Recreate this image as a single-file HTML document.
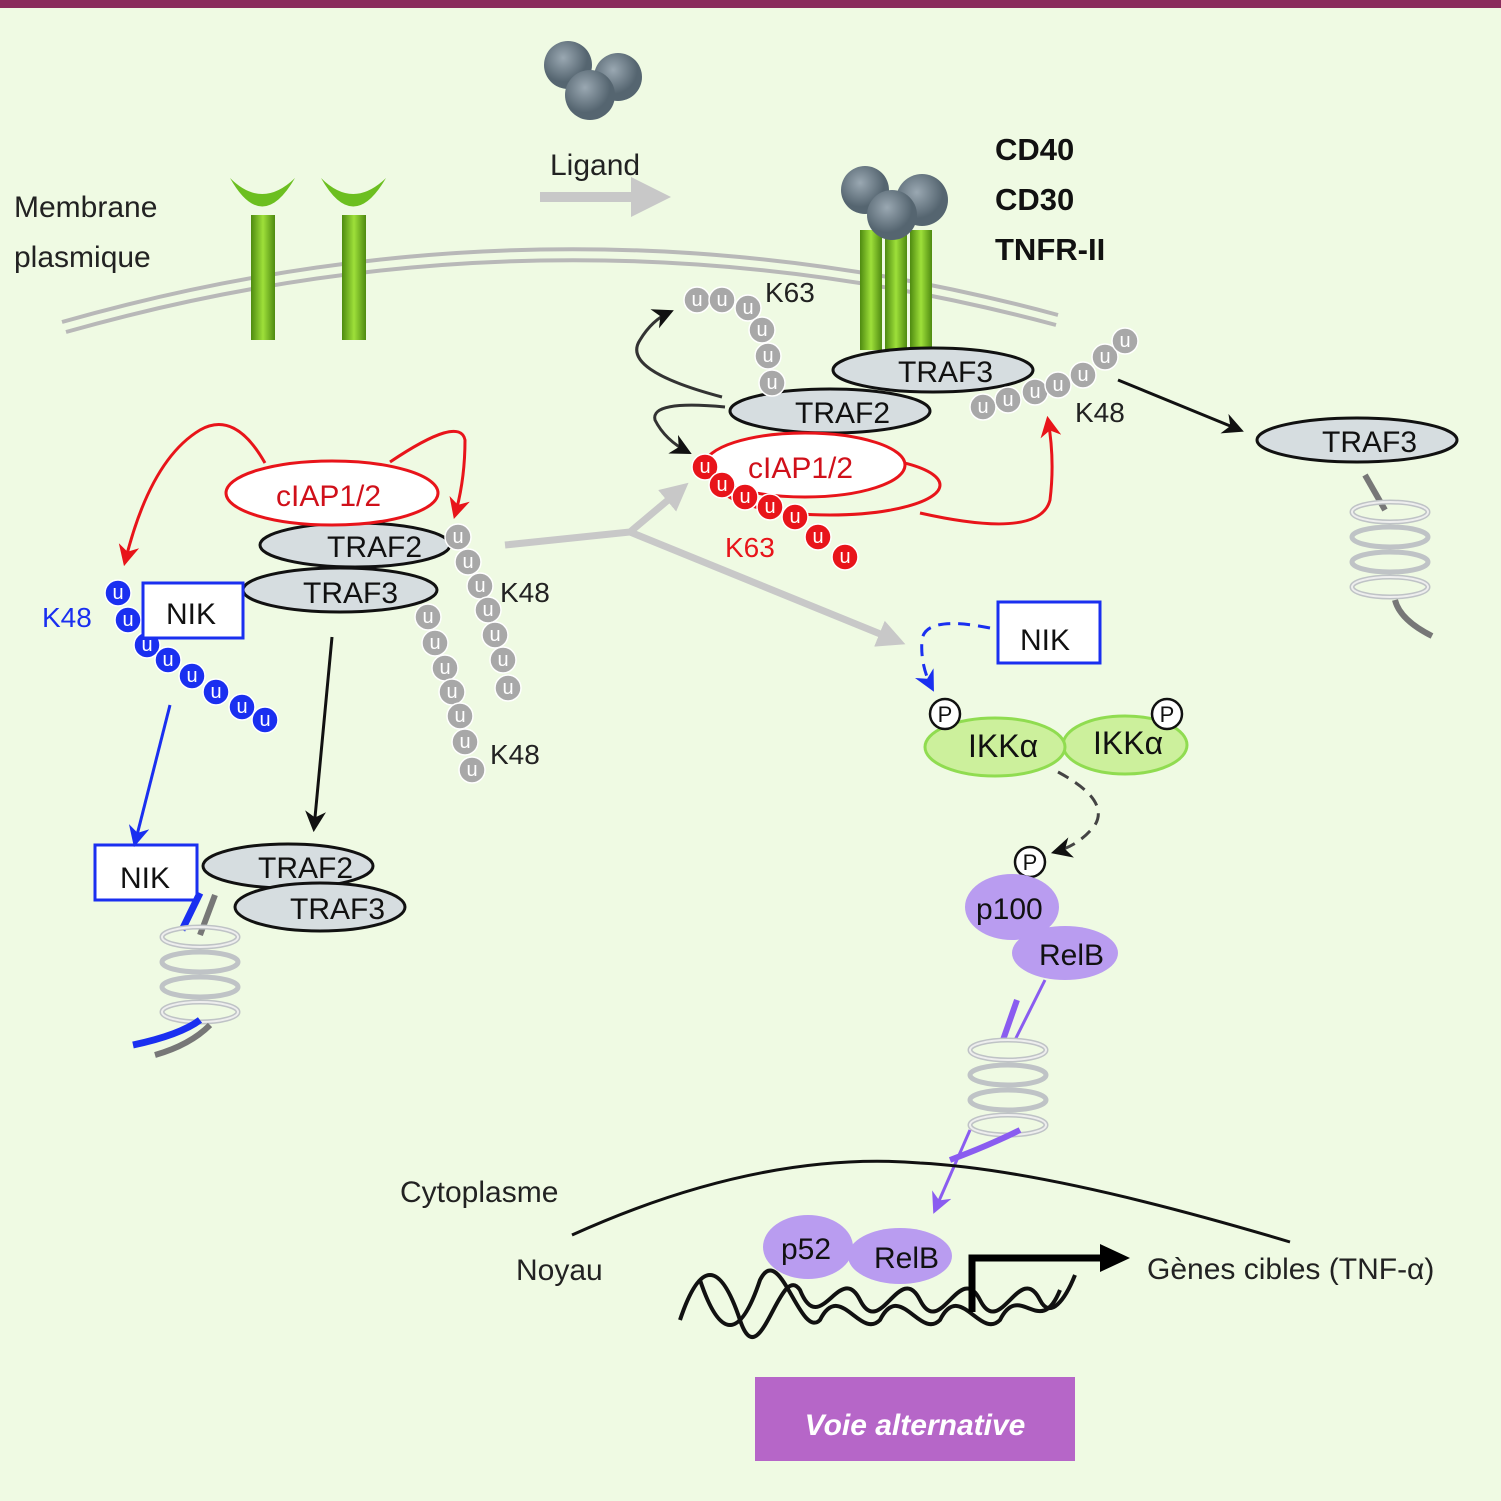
<!DOCTYPE html>
<html><head><meta charset="utf-8"><style>
html,body{margin:0;padding:0;background:#effae3}
svg{display:block}
text{font-family:"Liberation Sans",sans-serif}
</style></head><body>
<svg width="1501" height="1501" viewBox="0 0 1501 1501" xmlns="http://www.w3.org/2000/svg">
<defs>
<marker id="ab" viewBox="0 0 10 10" refX="8" refY="5" markerWidth="7" markerHeight="7" orient="auto"><path d="M0,0 L10,5 L0,10 L3,5z" fill="#111"/></marker>
<marker id="ar" viewBox="0 0 10 10" refX="8" refY="5" markerWidth="7" markerHeight="7" orient="auto"><path d="M0,0 L10,5 L0,10 L3,5z" fill="#e8141a"/></marker>
<marker id="abl" viewBox="0 0 10 10" refX="8" refY="5" markerWidth="7" markerHeight="7" orient="auto"><path d="M0,0 L10,5 L0,10 L3,5z" fill="#1a2ff0"/></marker>
<marker id="ag" viewBox="0 0 10 10" refX="6" refY="5" markerWidth="4" markerHeight="4" orient="auto"><path d="M0,0 L10,5 L0,10 z" fill="#c8c8c8"/></marker>
<marker id="ap" viewBox="0 0 10 10" refX="8" refY="5" markerWidth="7" markerHeight="7" orient="auto"><path d="M0,0 L10,5 L0,10 L3,5z" fill="#8a5cf0"/></marker>
<linearGradient id="gr" x1="0" x2="1"><stop offset="0" stop-color="#4e8a10"/><stop offset=".5" stop-color="#9ee03a"/><stop offset="1" stop-color="#4e8a10"/></linearGradient>
<radialGradient id="ball" cx=".4" cy=".35"><stop offset="0" stop-color="#9aa8b2"/><stop offset="1" stop-color="#556570"/></radialGradient>
<g id="prot"><g fill="none" stroke="#bfc3c6" stroke-width="5">
<ellipse cx="0" cy="-38" rx="38" ry="10"/><ellipse cx="0" cy="-13" rx="38" ry="10"/><ellipse cx="0" cy="12" rx="38" ry="10"/><ellipse cx="0" cy="37" rx="38" ry="10"/></g>
<g fill="none" stroke="#eee" stroke-width="2"><ellipse cx="0" cy="-38" rx="38" ry="10"/><ellipse cx="0" cy="37" rx="38" ry="10"/></g></g>
</defs>
<rect x="0" y="0" width="1501" height="1501" fill="#effae3"/>
<rect x="0" y="0" width="1501" height="8" fill="#8a2c5c"/>

<!-- ligand -->
<circle cx="568" cy="65" r="24" fill="url(#ball)"/><circle cx="618" cy="77" r="24" fill="url(#ball)"/><circle cx="590" cy="95" r="25" fill="url(#ball)"/>
<text x="550" y="175" font-size="30" fill="#222">Ligand</text>
<path d="M540,197 H655" stroke="#c8c8c8" stroke-width="10" marker-end="url(#ag)"/>

<!-- membrane -->
<path d="M62,322 Q560,180 1058,315" fill="none" stroke="#b8b8b8" stroke-width="4"/>
<path d="M66,332 Q560,192 1056,325" fill="none" stroke="#b8b8b8" stroke-width="4"/>
<text x="14" y="217" font-size="30" fill="#222">Membrane</text>
<text x="14" y="267" font-size="30" fill="#222">plasmique</text>

<!-- receptors -->
<g fill="url(#gr)"><rect x="251" y="215" width="24" height="125"/><rect x="342" y="215" width="24" height="125"/>
<path d="M230,178 Q262,235 295,178 Q262,210 230,178z" fill="#6cbf20"/><path d="M321,178 Q353,235 386,178 Q353,210 321,178z" fill="#6cbf20"/>
<rect x="860" y="230" width="22" height="120"/><rect x="885" y="230" width="22" height="120"/><rect x="910" y="230" width="22" height="120"/></g>
<circle cx="865" cy="190" r="24" fill="url(#ball)"/><circle cx="922" cy="200" r="26" fill="url(#ball)"/><circle cx="892" cy="215" r="25" fill="url(#ball)"/>
<g font-size="31" font-weight="bold" fill="#111"><text x="995" y="160">CD40</text><text x="995" y="210">CD30</text><text x="995" y="260">TNFR-II</text></g>

<!-- top complex -->
<g stroke="#111" stroke-width="3" fill="#d6dde0">
<ellipse cx="933" cy="370" rx="100" ry="22"/><ellipse cx="830" cy="411" rx="100" ry="22"/>
<ellipse cx="1357" cy="440" rx="100" ry="22"/>
<ellipse cx="355" cy="545" rx="95" ry="22"/><ellipse cx="340" cy="590" rx="97" ry="22"/>
<ellipse cx="288" cy="866" rx="85" ry="22"/><ellipse cx="320" cy="907" rx="85" ry="24"/></g>
<g font-size="30" fill="#111"><text x="898" y="382">TRAF3</text><text x="795" y="423">TRAF2</text><text x="1322" y="452">TRAF3</text>
<text x="327" y="557">TRAF2</text><text x="303" y="603">TRAF3</text><text x="258" y="878">TRAF2</text><text x="290" y="919">TRAF3</text></g>

<ellipse cx="830" cy="485" rx="110" ry="30" fill="none" stroke="#e8141a" stroke-width="3"/>
<ellipse cx="805" cy="465" rx="100" ry="32" fill="#fff" stroke="#e8141a" stroke-width="3"/>
<text x="748" y="478" font-size="30" fill="#d0101a">cIAP1/2</text>
<ellipse cx="332" cy="493" rx="106" ry="32" fill="#fff" stroke="#e8141a" stroke-width="3"/>
<text x="276" y="506" font-size="30" fill="#d0101a">cIAP1/2</text>

<!-- ubiquitin chains -->
<g fill="#a8a8a8" stroke="#fff" stroke-width="1.5">
<circle cx="697" cy="300" r="13"/><circle cx="722" cy="300" r="13"/><circle cx="748" cy="308" r="13"/><circle cx="762" cy="330" r="13"/><circle cx="768" cy="356" r="13"/><circle cx="772" cy="383" r="13"/>
<circle cx="983" cy="407" r="13"/><circle cx="1008" cy="400" r="13"/><circle cx="1035" cy="392" r="13"/><circle cx="1058" cy="385" r="13"/><circle cx="1083" cy="375" r="13"/><circle cx="1105" cy="357" r="13"/><circle cx="1125" cy="341" r="13"/>
<circle cx="458" cy="537" r="13"/><circle cx="468" cy="562" r="13"/><circle cx="480" cy="586" r="13"/><circle cx="488" cy="610" r="13"/><circle cx="495" cy="635" r="13"/><circle cx="503" cy="660" r="13"/><circle cx="508" cy="688" r="13"/>
<circle cx="428" cy="617" r="13"/><circle cx="435" cy="643" r="13"/><circle cx="445" cy="668" r="13"/><circle cx="452" cy="692" r="13"/><circle cx="460" cy="716" r="13"/><circle cx="465" cy="742" r="13"/><circle cx="472" cy="770" r="13"/></g>
<g fill="#e8141a" stroke="#fff" stroke-width="1.5">
<circle cx="705" cy="467" r="13"/><circle cx="722" cy="485" r="13"/><circle cx="745" cy="497" r="13"/><circle cx="770" cy="507" r="13"/><circle cx="795" cy="517" r="13"/><circle cx="818" cy="537" r="13"/><circle cx="845" cy="557" r="13"/></g>
<g fill="#1a2ff0" stroke="#fff" stroke-width="1.5">
<circle cx="118" cy="593" r="13"/><circle cx="128" cy="620" r="13"/><circle cx="147" cy="645" r="13"/><circle cx="168" cy="660" r="13"/><circle cx="192" cy="676" r="13"/><circle cx="216" cy="692" r="13"/><circle cx="242" cy="707" r="13"/><circle cx="265" cy="720" r="13"/></g>
<g font-size="20" fill="#fff" text-anchor="middle">
<text x="697" y="306">u</text><text x="722" y="306">u</text><text x="748" y="314">u</text><text x="762" y="336">u</text><text x="768" y="362">u</text><text x="772" y="389">u</text>
<text x="983" y="413">u</text><text x="1008" y="406">u</text><text x="1035" y="398">u</text><text x="1058" y="391">u</text><text x="1083" y="381">u</text><text x="1105" y="363">u</text><text x="1125" y="347">u</text>
<text x="458" y="543">u</text><text x="468" y="568">u</text><text x="480" y="592">u</text><text x="488" y="616">u</text><text x="495" y="641">u</text><text x="503" y="666">u</text><text x="508" y="694">u</text>
<text x="428" y="623">u</text><text x="435" y="649">u</text><text x="445" y="674">u</text><text x="452" y="698">u</text><text x="460" y="722">u</text><text x="465" y="748">u</text><text x="472" y="776">u</text>
<text x="705" y="473">u</text><text x="722" y="491">u</text><text x="745" y="503">u</text><text x="770" y="513">u</text><text x="795" y="523">u</text><text x="818" y="543">u</text><text x="845" y="563">u</text>
<text x="118" y="599">u</text><text x="128" y="626">u</text><text x="147" y="651">u</text><text x="168" y="666">u</text><text x="192" y="682">u</text><text x="216" y="698">u</text><text x="242" y="713">u</text><text x="265" y="726">u</text></g>
<g font-size="28" fill="#222"><text x="765" y="302">K63</text><text x="1075" y="422">K48</text><text x="500" y="602">K48</text><text x="490" y="764">K48</text></g>
<text x="725" y="557" font-size="28" fill="#e8141a">K63</text>
<text x="42" y="627" font-size="28" fill="#1a2ff0">K48</text>

<!-- NIK boxes -->
<g fill="#fff" stroke="#1a2ff0" stroke-width="3">
<rect x="143" y="583" width="100" height="55"/><rect x="95" y="845" width="102" height="55"/><rect x="998" y="602" width="102" height="61"/></g>
<g font-size="30" fill="#111"><text x="166" y="624">NIK</text><text x="120" y="888">NIK</text><text x="1020" y="650">NIK</text></g>

<!-- proteasomes -->
<path d="M1365,475 L1385,510" stroke="#777" stroke-width="6"/>
<use href="#prot" x="1390" y="550"/>
<path d="M1395,600 Q1400,620 1432,636" stroke="#777" stroke-width="6" fill="none"/>
<path d="M200,893 L182,930" stroke="#1a2ff0" stroke-width="7"/><path d="M215,895 L200,935" stroke="#777" stroke-width="6"/>
<use href="#prot" x="200" y="975"/>
<path d="M200,1020 Q180,1035 133,1045" stroke="#1a2ff0" stroke-width="7" fill="none"/>
<path d="M210,1025 Q190,1045 155,1055" stroke="#777" stroke-width="6" fill="none"/>
<path d="M1045,980 L1015,1040" stroke="#8a5cf0" stroke-width="3"/><path d="M1017,1000 L1003,1040" stroke="#8a5cf0" stroke-width="6"/>
<use href="#prot" x="1008" y="1088"/>
<path d="M1020,1130 Q990,1145 950,1160" stroke="#8a5cf0" stroke-width="6" fill="none"/>

<!-- arrows -->
<path d="M265,463 Q235,410 200,430 Q150,460 125,562" fill="none" stroke="#e8141a" stroke-width="3" marker-end="url(#ar)"/>
<path d="M390,462 Q460,415 465,440 Q465,480 455,515" fill="none" stroke="#e8141a" stroke-width="3" marker-end="url(#ar)"/>
<path d="M920,513 Q1040,540 1050,500 Q1055,460 1048,420" fill="none" stroke="#e8141a" stroke-width="3" marker-end="url(#ar)"/>
<path d="M505,545 L630,532 L680,490" fill="none" stroke="#c8c8c8" stroke-width="7" marker-end="url(#ag)"/>
<path d="M630,532 L895,640" fill="none" stroke="#c8c8c8" stroke-width="7" marker-end="url(#ag)"/>
<path d="M332,637 L314,828" stroke="#111" stroke-width="3" marker-end="url(#ab)"/>
<path d="M170,705 L135,843" stroke="#1a2ff0" stroke-width="3" marker-end="url(#abl)"/>
<path d="M1118,380 L1240,430" stroke="#111" stroke-width="3" marker-end="url(#ab)"/>
<path d="M722,397 Q620,370 640,340 Q652,320 670,312" fill="none" stroke="#333" stroke-width="3" marker-end="url(#ab)"/>
<path d="M725,407 Q650,400 655,420 Q665,440 688,452" fill="none" stroke="#333" stroke-width="3" marker-end="url(#ab)"/>
<path d="M990,628 Q925,615 922,640 Q920,665 932,688" fill="none" stroke="#1a2ff0" stroke-width="3" stroke-dasharray="12,8" marker-end="url(#abl)"/>
<path d="M1058,772 Q1110,800 1095,825 Q1080,845 1055,852" fill="none" stroke="#444" stroke-width="3" stroke-dasharray="12,8" marker-end="url(#ab)"/>
<path d="M970,1130 L935,1210" stroke="#8a5cf0" stroke-width="3" marker-end="url(#ap)"/>

<!-- IKK -->
<ellipse cx="1125" cy="745" rx="62" ry="29" fill="#ccf09c" stroke="#90dc50" stroke-width="3"/>
<ellipse cx="995" cy="747" rx="70" ry="29" fill="#ccf09c" stroke="#90dc50" stroke-width="3"/>
<g font-size="32" fill="#111"><text x="968" y="757">IKKα</text><text x="1093" y="754">IKKα</text></g>
<g fill="#fff" stroke="#111" stroke-width="2.5"><circle cx="945" cy="714" r="15"/><circle cx="1167" cy="714" r="15"/><circle cx="1030" cy="862" r="15"/></g>
<g font-size="22" fill="#111" text-anchor="middle"><text x="945" y="722">P</text><text x="1167" y="722">P</text><text x="1030" y="870">P</text></g>

<!-- p100 / RelB -->
<ellipse cx="1012" cy="907" rx="47" ry="33" fill="#b99cf0"/>
<ellipse cx="1065" cy="953" rx="53" ry="27" fill="#b99cf0"/>
<g font-size="30" fill="#111"><text x="976" y="919">p100</text><text x="1039" y="965">RelB</text></g>

<!-- nucleus -->
<path d="M572,1235 Q760,1150 920,1163 Q1050,1170 1290,1242" fill="none" stroke="#111" stroke-width="3"/>
<text x="400" y="1202" font-size="30" fill="#222">Cytoplasme</text>
<text x="516" y="1280" font-size="30" fill="#222">Noyau</text>
<g fill="none" stroke="#111" stroke-width="4">
<path d="M680,1320 C700,1260 720,1260 740,1320 C760,1380 780,1260 800,1290 C820,1340 840,1260 860,1300 C880,1340 900,1260 920,1300 C940,1340 960,1260 980,1300 C1000,1340 1020,1260 1040,1300 C1050,1320 1065,1300 1075,1275"/>
<path d="M700,1280 C720,1340 740,1340 760,1280 C780,1240 800,1340 820,1320 C840,1280 860,1340 880,1320 C900,1280 920,1340 940,1320 C960,1280 980,1340 1000,1320 C1020,1280 1040,1340 1060,1290"/></g>
<ellipse cx="808" cy="1247" rx="45" ry="32" fill="#b99cf0"/>
<ellipse cx="900" cy="1256" rx="52" ry="28" fill="#b99cf0"/>
<g font-size="30" fill="#111"><text x="781" y="1259">p52</text><text x="874" y="1268">RelB</text></g>
<path d="M972,1312 V1258 H1105" fill="none" stroke="#000" stroke-width="7"/>
<path d="M1100,1244 L1130,1258 L1100,1272z" fill="#000"/>
<text x="1147" y="1279" font-size="30" fill="#222">Gènes cibles (TNF-α)</text>

<rect x="755" y="1377" width="320" height="84" fill="#b666c8"/>
<text x="915" y="1435" font-size="30" font-weight="bold" font-style="italic" fill="#fff" text-anchor="middle">Voie alternative</text>
</svg>
</body></html>
